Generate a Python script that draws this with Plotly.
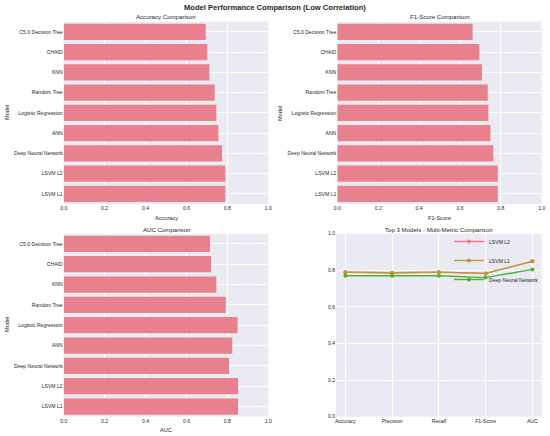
import plotly.graph_objects as go
from plotly.subplots import make_subplots

# Модели (сверху вниз, как на исходном графике)
models = ["C5.0 Decision Tree", "CHAID", "KNN", "Random Tree", "Logistic Regression",
          "ANN", "Deep Neural Network", "LSVM L2", "LSVM L1"]

accuracy = [0.694, 0.702, 0.712, 0.738, 0.746, 0.756, 0.774, 0.790, 0.790]
f1_score = [0.662, 0.695, 0.708, 0.736, 0.739, 0.749, 0.763, 0.785, 0.785]
auc = [0.715, 0.720, 0.746, 0.792, 0.850, 0.824, 0.808, 0.852, 0.852]

# Топ-3 модели по нескольким метрикам
metrics = ["Accuracy", "Precision", "Recall", "F1-Score", "AUC"]
top_models = ["LSVM L2", "LSVM L1", "Deep Neural Network"]
lsvm_l2 = [0.790, 0.787, 0.790, 0.783, 0.849]
lsvm_l1 = [0.790, 0.787, 0.790, 0.783, 0.849]
dnn = [0.770, 0.770, 0.770, 0.760, 0.805]

BAR_COLOR = "#e8808e"
LINE_COLORS = ["#f77189", "#bb9832", "#50b131"]
BG = "#eaeaf2"
FONT = "Liberation Sans, Arial, sans-serif"
TEXT = "#262626"

fig = make_subplots(rows=2, cols=2)

bar_panels = [(accuracy, 1, 1), (f1_score, 1, 2), (auc, 2, 1)]
for values, r, c in bar_panels:
    fig.add_trace(go.Bar(x=values, y=models, orientation="h", marker_color=BAR_COLOR,
                         marker_line_width=0, showlegend=False), row=r, col=c)

for name, vals, col in zip(top_models, [lsvm_l2, lsvm_l1, dnn], LINE_COLORS):
    fig.add_trace(go.Scatter(x=metrics, y=vals, mode="lines+markers", name=name,
                             line=dict(color=col, width=1.4),
                             marker=dict(color=col, size=4)), row=2, col=2)

W, H = 550, 436

def px(x):
    return x / W

def py(y):
    return 1 - y / H

def xd(a, b):
    return [px(a), px(b)]

def yd(top, bottom):
    return [py(bottom), py(top)]

axis_common = dict(showgrid=True, gridcolor="white", gridwidth=0.8, zeroline=False,
                   showline=False, ticks="", ticklen=0, automargin=False,
                   tickfont=dict(size=5.1, color=TEXT))

fig.update_layout(
    xaxis=dict(domain=xd(63.7, 268.3), range=[0, 1], dtick=0.2, tickformat=".1f", **axis_common),
    yaxis=dict(domain=yd(21.7, 204), autorange="reversed", **axis_common),
    xaxis2=dict(domain=xd(337.3, 541.7), range=[0, 1], dtick=0.2, tickformat=".1f", **axis_common),
    yaxis2=dict(domain=yd(21.7, 204), autorange="reversed", **axis_common),
    xaxis3=dict(domain=xd(63.7, 268.3), range=[0, 1], dtick=0.2, tickformat=".1f", **axis_common),
    yaxis3=dict(domain=yd(233.7, 416.7), autorange="reversed", **axis_common),
    xaxis4=dict(domain=xd(336, 541.7), range=[-0.2, 4.2], **axis_common),
    yaxis4=dict(domain=yd(233.7, 416.7), range=[0, 1], dtick=0.2, tickformat=".1f", **axis_common),
)

fig.update_layout(
    width=W, height=H,
    margin=dict(l=0, r=0, t=0, b=0),
    paper_bgcolor="white", plot_bgcolor=BG,
    bargap=0.2,
    font=dict(family=FONT, color=TEXT),
    legend=dict(x=px(449), y=py(227), xanchor="left", yanchor="top",
                bgcolor="rgba(0,0,0,0)", font=dict(size=5.1, color=TEXT),
                itemwidth=30, tracegroupgap=0),
)

def note(text, x, y, size, angle=0, bold=False):
    if bold:
        text = "<b>" + text + "</b>"
    fig.add_annotation(text=text, x=px(x), y=py(y), xref="paper", yref="paper",
                       showarrow=False, textangle=angle, font=dict(size=size, color=TEXT),
                       xanchor="center", yanchor="middle")

note("Model Performance Comparison (Low Correlation)", 275, 7.5, 7.6, bold=True)
note("Accuracy Comparison", 166, 16.5, 6.1)
note("F1-Score Comparison", 439.5, 16.5, 6.1)
note("AUC Comparison", 166, 229, 6.1)
note("Top 3 Models - Multi-Metric Comparison", 439, 229, 6.1)
note("Accuracy", 166, 217.5, 5.6)
note("F1-Score", 439.5, 217.5, 5.6)
note("AUC", 166, 429.5, 5.6)
note("Model", 7, 113, 5.6, angle=-90)
note("Model", 280, 113, 5.6, angle=-90)
note("Model", 7, 325, 5.6, angle=-90)

# убираем стандартный отступ body, чтобы фигура встала ровно в окно
fig.write_html("out.html", config={"displayModeBar": False},
               post_script="document.body.style.margin='0';")
